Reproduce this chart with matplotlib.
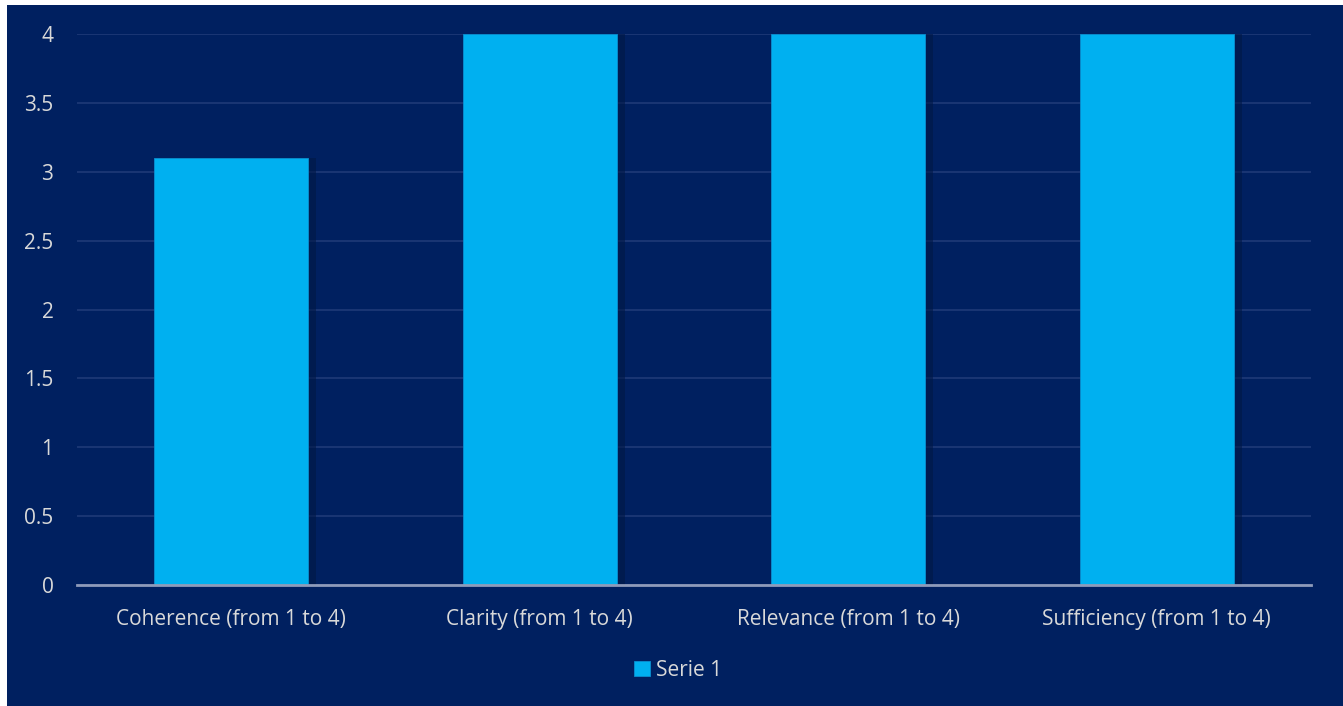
import matplotlib
matplotlib.use("Agg")
import matplotlib.pyplot as plt
from matplotlib.patches import Rectangle
import numpy as np

categories = ["Coherence (from 1 to 4)", "Clarity (from 1 to 4)",
              "Relevance (from 1 to 4)", "Sufficiency (from 1 to 4)"]
values = [3.1, 4, 4, 4]
yticks = [0, 0.5, 1, 1.5, 2, 2.5, 3, 3.5, 4]
ytick_labels = ["0", "0.5", "1", "1.5", "2", "2.5", "3", "3.5", "4"]
series_name = "Serie 1"

BG = "#002060"
BAR = "#00B0F0"
TXT = "#D9D9D9"

plt.rcParams['font.family'] = ['Open Sans', 'DejaVu Sans']

W, H = 1343, 706
fig = plt.figure(figsize=(W / 100, H / 100), dpi=100, facecolor="white")
fig.patches.append(Rectangle((7 / W, 0), 1 - 7 / W, 1 - 5 / H, transform=fig.transFigure,
                             facecolor=BG, edgecolor="none", zorder=-10))

ax = fig.add_axes([77 / W, 1 - 585 / H, (1311 - 77) / W, (585 - 34) / H])
ax.set_zorder(1)
ax.set_facecolor("none")
x = np.arange(len(categories))

# shadow
ax.bar(x + 0.025, values, width=0.5, color="#001845", alpha=0.6, zorder=2)
bars = ax.bar(x, values, width=0.5, color=BAR, edgecolor="#0A8FD0", linewidth=0.6, zorder=3, label=series_name)

ax.set_xlim(-0.5, len(categories) - 0.5)
ax.set_ylim(0, 4)
ax.set_yticks(yticks)
ax.set_yticklabels(ytick_labels)
ax.set_xticks(x)
ax.set_xticklabels(categories)
ax.grid(axis="y", color="#1F3A78", linewidth=1.2, zorder=1)
ax.set_axisbelow(True)
for s in ["top", "right", "left"]:
    ax.spines[s].set_visible(False)
ax.spines["bottom"].set_color("#8E9BBA")
ax.spines["bottom"].set_linewidth(2)
ax.spines["bottom"].set_zorder(4)
ax.tick_params(axis="both", length=0, colors=TXT, labelsize=15)
ax.tick_params(axis="y", pad=17)
ax.tick_params(axis="x", pad=17)

leg = fig.legend(handles=[bars], labels=[series_name], loc="center",
                 bbox_to_anchor=(678 / W, 1 - 670 / H), frameon=False,
                 fontsize=15, handlelength=0.75, handleheight=0.75, handletextpad=0.3)
leg.set_zorder(5)
for t in leg.get_texts():
    t.set_color(TXT)

fig.savefig("out.png", dpi=100, facecolor="white")
